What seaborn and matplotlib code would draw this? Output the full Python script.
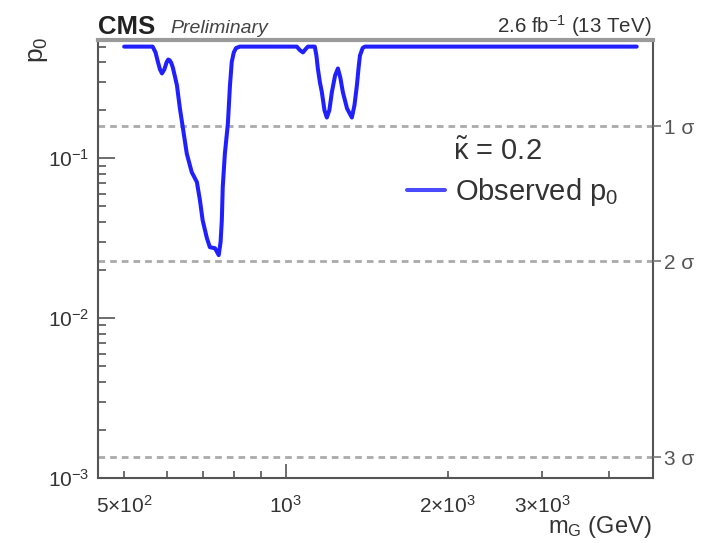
import matplotlib
matplotlib.use("Agg")
import matplotlib.pyplot as plt
import matplotlib.ticker as mticker
import seaborn as sns
import pandas as pd

# ---- data ----
mass_gev = [500, 565, 572, 578, 583, 588, 594, 600, 604, 608, 612, 616, 621, 627, 635,
            643, 654, 668, 683, 692, 700, 713, 722, 738, 750, 756, 760, 763, 770, 780,
            787, 793, 800, 808, 821,
            1048, 1062, 1076, 1090, 1099, 1132, 1140, 1147, 1157, 1167, 1180, 1192,
            1205, 1218, 1235, 1250, 1263, 1277, 1300, 1327, 1342, 1356, 1366, 1374,
            1390, 1403, 4500]
p0_observed = [0.5, 0.5, 0.46, 0.40, 0.36, 0.34, 0.36, 0.40, 0.415, 0.41, 0.395, 0.37,
               0.33, 0.286, 0.205, 0.156, 0.107, 0.082, 0.071, 0.0546, 0.041, 0.0316,
               0.0278, 0.0274, 0.0248, 0.030, 0.041, 0.066, 0.107, 0.165, 0.286, 0.40,
               0.46, 0.49, 0.5,
               0.5, 0.475, 0.46, 0.485, 0.5, 0.5, 0.44, 0.365, 0.30, 0.259, 0.20, 0.18,
               0.20, 0.259, 0.33, 0.365, 0.32, 0.259, 0.205, 0.18, 0.215, 0.286, 0.37,
               0.44, 0.49, 0.5, 0.5]
sigma_levels = [0.1587, 0.02275, 0.00135]
sigma_labels = ["1 σ", "2 σ", "3 σ"]
x_long_ticks = [1000]
x_long_labels = [r"10$^{3}$"]
x_short_ticks = [500, 600, 700, 800, 900, 2000, 3000, 4000]
x_short_labels = [r"5$\times$10$^{2}$", "", "", "", "", r"2$\times$10$^{3}$",
                  r"3$\times$10$^{3}$", ""]
y_major_ticks = [1e-3, 1e-2, 1e-1]
y_major_labels = [r"10$^{-3}$", r"10$^{-2}$", r"10$^{-1}$"]

sns.set_theme(style="white")
plt.rcParams["font.family"] = ["Liberation Sans", "DejaVu Sans"]
plt.rcParams["mathtext.fontset"] = "custom"
plt.rcParams["mathtext.rm"] = "Liberation Sans"
plt.rcParams["mathtext.it"] = "Liberation Sans:italic"
plt.rcParams["mathtext.bf"] = "Liberation Sans:bold"
plt.rcParams["axes.unicode_minus"] = False

W, H = 706, 543
fig = plt.figure(figsize=(W / 100, H / 100), dpi=100)
L, R, T, B = 98, 653, 40, 478
ax = fig.add_axes([L / W, 1 - B / H, (R - L) / W, (B - T) / H])

df = pd.DataFrame({"mass": mass_gev, "p0": p0_observed})
sns.lineplot(data=df, x="mass", y="p0", ax=ax, color="#2020ff", linewidth=2.9,
             estimator=None, sort=False, label="Observed p$_0$", zorder=3,
             solid_joinstyle="round", solid_capstyle="round")

ax.set_xscale("log")
ax.set_yscale("log")
ax.set_xlim(447, 4825)
ax.set_ylim(1e-3, 0.55)

for s in sigma_levels:
    ax.axhline(s, color="#aaaaaa", linewidth=2.0, dashes=(2.4, 1.8), zorder=1)

# x ticks: only 10^3 is a long tick, the others are short (some labelled)
ax.xaxis.set_major_locator(mticker.FixedLocator(x_long_ticks))
ax.xaxis.set_major_formatter(mticker.FixedFormatter(x_long_labels))
ax.xaxis.set_minor_locator(mticker.FixedLocator(x_short_ticks))
ax.xaxis.set_minor_formatter(mticker.FixedFormatter(x_short_labels))
# y ticks
ax.yaxis.set_major_locator(mticker.FixedLocator(y_major_ticks))
ax.yaxis.set_major_formatter(mticker.FixedFormatter(y_major_labels))
ax.yaxis.set_minor_locator(mticker.LogLocator(base=10, subs=range(2, 10)))
ax.yaxis.set_minor_formatter(mticker.NullFormatter())

tick_col = "#555555"
ax.tick_params(axis="x", which="major", direction="in", length=10, width=1.2,
               bottom=True, top=False, colors=tick_col, labelcolor="#333333",
               labelsize=15, pad=12)
ax.tick_params(axis="x", which="minor", direction="in", length=5, width=1.2,
               bottom=True, top=False, colors=tick_col, labelcolor="#333333",
               labelsize=15, pad=12)
ax.tick_params(axis="y", which="major", direction="in", length=12, width=1.2,
               left=True, right=False, colors=tick_col, labelcolor="#333333",
               labelsize=15, pad=6)
ax.tick_params(axis="y", which="minor", direction="in", length=6, width=1.2,
               left=True, right=False, colors=tick_col)

for side in ["left", "bottom", "right"]:
    ax.spines[side].set_color("#555555")
    ax.spines[side].set_linewidth(1.5)
ax.spines["top"].set_color("#9a9a9a")
ax.spines["top"].set_linewidth(3)
ax.grid(False)

# right sigma labels
ax2 = ax.twinx()
ax2.set_yscale("log")
ax2.set_ylim(ax.get_ylim())
ax2.yaxis.set_major_locator(mticker.FixedLocator(sigma_levels))
ax2.yaxis.set_major_formatter(mticker.FixedFormatter(sigma_labels))
ax2.yaxis.set_minor_locator(mticker.NullLocator())
ax2.tick_params(axis="y", which="major", direction="out", length=6, width=1.2,
                right=True, left=False, colors="#777777", labelcolor="#555555",
                labelsize=15, pad=2)
for sp in ax2.spines.values():
    sp.set_visible(False)
ax2.grid(False)

# legend
leg = ax.legend(loc="center left", bbox_to_anchor=((407 - L) / (R - L), (B - 192) / (B - T)),
                frameon=False, fontsize=21, handlelength=1.3, handletextpad=0.33,
                borderpad=0, borderaxespad=0)
for t in leg.get_texts():
    t.set_color("#333333")
for h in leg.get_lines():
    h.set_color("#4a4aff")
    h.set_linewidth(2.9)
fig.text(453 / W, 1 - 152 / H, r"$\tilde{\mathrm{\kappa}}$ = 0.2", fontsize=21,
         color="#333333", ha="left", va="center")

# header texts
fig.text(L / W, 1 - 34 / H, "CMS", fontsize=18.5, fontweight="bold", color="#222222",
         ha="left", va="baseline")
fig.text(170 / W, 1 - 33 / H, "Preliminary", fontsize=14, fontstyle="italic",
         color="#444444", ha="left", va="baseline")
fig.text(652 / W, 1 - 33 / H, r"2.6 fb$^{-1}$ (13 TeV)", fontsize=14.8, color="#333333",
         ha="right", va="baseline")

# axis titles
ax.set_xlabel("")
ax.set_ylabel("")
fig.text(652 / W, 1 - 527 / H, r"m$_{\mathrm{G}}$ (GeV)", fontsize=17, color="#333333",
         ha="right", va="center")
fig.text(38 / W, 1 - 36 / H, r"p$_{0}$", fontsize=19, color="#333333",
         rotation=90, ha="center", va="top")

fig.savefig("out.png", dpi=100)
